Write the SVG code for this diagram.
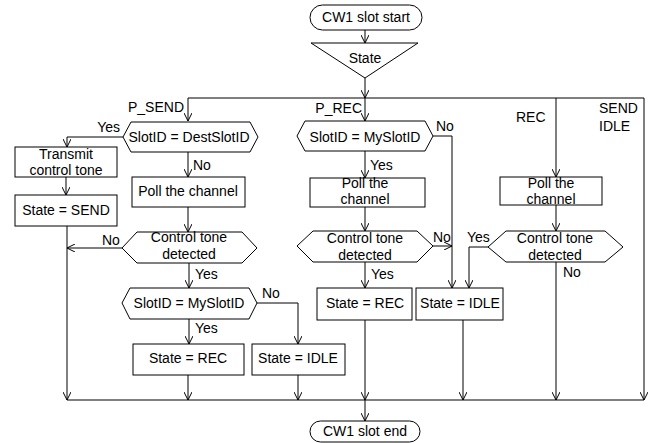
<svg xmlns="http://www.w3.org/2000/svg" width="652" height="443" viewBox="0 0 652 443">
<defs>
<marker id="ah" viewBox="0 0 8 8" refX="8" refY="4" markerWidth="8" markerHeight="8" markerUnits="userSpaceOnUse" orient="auto">
<path d="M0,0 L8,4 L0,8" fill="none" stroke="#000" stroke-width="1"/>
</marker>
<style>
.s{fill:#fff;stroke:#000;stroke-width:1}
.c{fill:none;stroke:#000;stroke-width:1}
.a{marker-end:url(#ah)}
text{font-family:"Liberation Sans",Arial,sans-serif;font-size:14px;fill:#000}
.m{text-anchor:middle}
.e{text-anchor:end}
</style>
</defs>
<rect width="652" height="443" fill="#fff"/>
<g id="connectors">
<path class="c a" d="M365,30 V43"/>
<path class="c a" d="M365,78 V98"/>
<path class="c" d="M188,98 H644"/>
<path class="c a" d="M188,98 V121"/>
<path class="c a" d="M365,98 V121"/>
<path class="c a" d="M556,98 V177"/>
<path class="c a" d="M644,98 V400"/>
<path class="c a" d="M123,137 H67 V147"/>
<path class="c a" d="M188,152 V177"/>
<path class="c a" d="M66,177 V195"/>
<path class="c a" d="M67,226 V400"/>
<path class="c a" d="M188,207 V232"/>
<path class="c a" d="M122,248 H67"/>
<path class="c a" d="M189,263 V288"/>
<path class="c a" d="M257,303 H298 V344"/>
<path class="c a" d="M189,319 V344"/>
<path class="c a" d="M188,375 V400"/>
<path class="c a" d="M298,375 V400"/>
<path class="c a" d="M365,151 V178"/>
<path class="c a" d="M433,136 H452 V288"/>
<path class="c a" d="M365,207 V231"/>
<path class="c a" d="M433,246 H452"/>
<path class="c a" d="M365,262 V288"/>
<path class="c a" d="M365,320 V400"/>
<path class="c a" d="M365,400 V421"/>
<path class="c a" d="M463,320 V400"/>
<path class="c a" d="M556,205 V231"/>
<path class="c a" d="M488,247 H469 V288"/>
<path class="c a" d="M556,262 V400"/>
<path class="c" d="M67,400 H644"/>
</g>
<g id="labels">
<text class="e" x="184" y="112">P_SEND</text>
<text class="e" x="120" y="132">Yes</text>
<text x="193" y="170">No</text>
<text class="e" x="362" y="113">P_REC</text>
<text x="436" y="131">No</text>
<text x="370" y="170">Yes</text>
<text x="516" y="122">REC</text>
<text x="599" y="113">SEND</text>
<text x="599" y="131">IDLE</text>
<text x="102" y="245">No</text>
<text x="195" y="279">Yes</text>
<text x="262" y="298">No</text>
<text x="195" y="333">Yes</text>
<text x="433" y="242">No</text>
<text x="467" y="242">Yes</text>
<text x="371" y="279">Yes</text>
<text x="563" y="277">No</text>
</g>
<g id="start">
<rect class="s" x="310" y="5" width="112" height="25" rx="12.5"/>
<text class="m" x="366" y="22">CW1 slot start</text>
</g>
<g id="state">
<polygon class="s" points="311,43 418,43 365,78"/>
<text class="m" x="365" y="63">State</text>
</g>
<g id="dest-slot">
<polygon class="s" points="123,137 131,122 250,122 258,137 250,152 131,152"/>
<text class="m" x="189" y="142">SlotID = DestSlotID</text>
</g>
<g id="transmit">
<rect class="s" x="15" y="147" width="102" height="30"/>
<text class="m" x="66" y="159">Transmit</text>
<text class="m" x="66" y="175">control tone</text>
</g>
<g id="state-send">
<rect class="s" x="15" y="195" width="102" height="31"/>
<text class="m" x="66" y="215">State = SEND</text>
</g>
<g id="poll-left">
<rect class="s" x="132" y="177" width="113" height="30"/>
<text class="m" x="188" y="196">Poll the channel</text>
</g>
<g id="control-left">
<polygon class="s" points="122,248 137,232 242,232 257,248 242,263 137,263"/>
<text class="m" x="189" y="242">Control tone</text>
<text class="m" x="189" y="259">detected</text>
</g>
<g id="my-slot-left">
<polygon class="s" points="122,303 130,288 249,288 257,303 249,319 130,319"/>
<text class="m" x="189" y="308">SlotID = MySlotID</text>
</g>
<g id="state-rec-left">
<rect class="s" x="133" y="344" width="111" height="31"/>
<text class="m" x="188" y="363">State = REC</text>
</g>
<g id="state-idle-left">
<rect class="s" x="252" y="344" width="93" height="31"/>
<text class="m" x="298" y="363">State = IDLE</text>
</g>
<g id="my-slot-mid">
<polygon class="s" points="297,136 305,121 425,121 433,136 425,151 305,151"/>
<text class="m" x="365" y="142">SlotID = MySlotID</text>
</g>
<g id="poll-mid">
<rect class="s" x="310" y="178" width="115" height="29"/>
<text class="m" x="365" y="188">Poll the</text>
<text class="m" x="365" y="204">channel</text>
</g>
<g id="control-mid">
<polygon class="s" points="297,246 313,231 417,231 433,246 417,262 313,262"/>
<text class="m" x="365" y="243">Control tone</text>
<text class="m" x="365" y="260">detected</text>
</g>
<g id="state-rec-mid">
<rect class="s" x="317" y="288" width="95" height="32"/>
<text class="m" x="365" y="308">State = REC</text>
</g>
<g id="state-idle-mid">
<rect class="s" x="416" y="288" width="87" height="32"/>
<text class="m" x="460" y="308">State = IDLE</text>
</g>
<g id="poll-right">
<rect class="s" x="500" y="177" width="102" height="28"/>
<text class="m" x="551" y="188">Poll the</text>
<text class="m" x="551" y="204">channel</text>
</g>
<g id="control-right">
<polygon class="s" points="488,247 506,231 605,231 623,247 605,262 506,262"/>
<text class="m" x="555" y="243">Control tone</text>
<text class="m" x="555" y="260">detected</text>
</g>
<g id="end">
<rect class="s" x="310" y="421" width="110" height="21" rx="10.5"/>
<text class="m" x="365" y="436">CW1 slot end</text>
</g>
</svg>
